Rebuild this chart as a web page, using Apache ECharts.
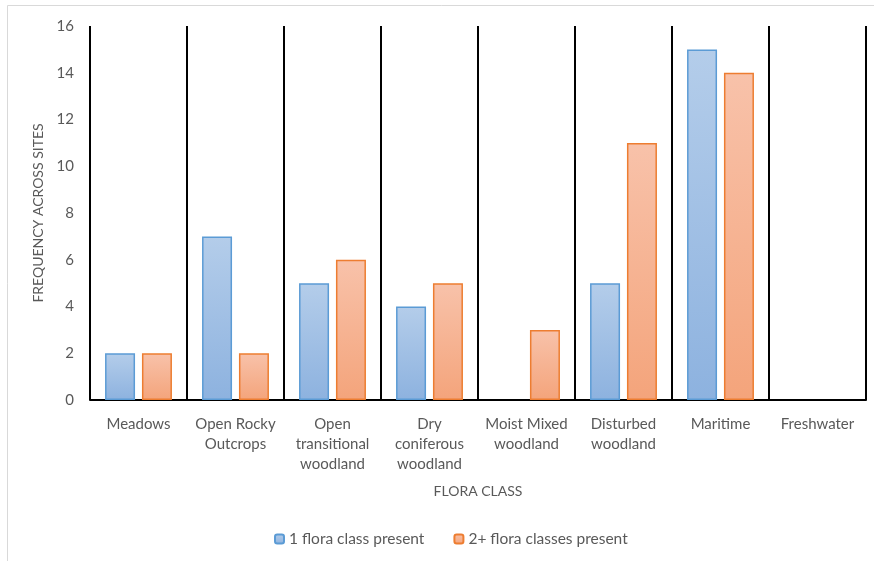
<!DOCTYPE html>
<html>
<head>
<meta charset="utf-8">
<script src="https://cdn.jsdelivr.net/npm/echarts@6/dist/echarts.min.js"></script>
<style>
  html, body { margin: 0; padding: 0; background: #fff; }
  #chart { width: 874px; height: 561px; }
</style>
</head>
<body>
<div id="chart"></div>
<script>
// Flora classes along the x axis
const categories = [
  'Meadows',
  'Open Rocky\nOutcrops',
  'Open\ntransitional\nwoodland',
  'Dry\nconiferous\nwoodland',
  'Moist Mixed\nwoodland',
  'Disturbed\nwoodland',
  'Maritime',
  'Freshwater'
];
// Site counts per flora class
const oneClass = [2, 7, 5, 4, null, 5, 15, null];
const twoPlusClasses = [2, 2, 6, 5, 3, 11, 14, null];
const seriesNames = ['1 flora class present', '2+ flora classes present'];

const FONT = 'Lato, "Open Sans", sans-serif';
const TEXT = '#595959';

const chart = echarts.init(document.getElementById('chart'), null, { renderer: 'canvas' });

function grad(top, bottom) {
  return new echarts.graphic.LinearGradient(0, 0, 0, 1, [
    { offset: 0, color: top },
    { offset: 1, color: bottom }
  ]);
}

chart.setOption({
  animation: false,
  backgroundColor: '#fff',
  textStyle: { fontFamily: FONT },
  graphic: [{
    // chart frame; only its top and left edges fall inside the canvas
    type: 'rect',
    shape: { x: 7.5, y: 5.5, width: 900, height: 600 },
    style: { fill: 'none', stroke: '#d9d9d9', lineWidth: 1 },
    silent: true
  }],
  grid: { left: 90, right: 8, top: 26, bottom: 161 },
  legend: {
    bottom: 14,
    left: 274,
    padding: 0,
    itemWidth: 9,
    itemHeight: 9,
    itemGap: 29,
    textStyle: { color: TEXT, fontSize: 15.5, fontFamily: FONT },
    data: seriesNames
  },
  xAxis: {
    type: 'category',
    data: categories,
    name: 'FLORA CLASS',
    nameLocation: 'middle',
    nameGap: 84,
    nameTextStyle: { color: TEXT, fontSize: 14, fontFamily: FONT },
    axisLine: { show: true, lineStyle: { color: '#000', width: 2 } },
    axisTick: { show: false },
    axisLabel: { color: TEXT, fontSize: 15, lineHeight: 20, margin: 14, interval: 0, fontFamily: FONT },
    splitLine: { show: true, interval: 0, lineStyle: { color: '#000', width: 2 } }
  },
  yAxis: {
    type: 'value',
    min: 0,
    max: 16,
    interval: 2,
    name: 'FREQUENCY ACROSS SITES',
    nameLocation: 'middle',
    nameGap: 42,
    nameRotate: 90,
    nameTextStyle: { color: TEXT, fontSize: 14, fontFamily: FONT },
    axisLine: { show: false },
    axisTick: { show: false },
    axisLabel: { color: TEXT, fontSize: 15, margin: 16, fontFamily: FONT },
    splitLine: { show: false }
  },
  series: [
    {
      name: seriesNames[0],
      type: 'bar',
      data: oneClass,
      barWidth: 30,
      barGap: '23%',
      itemStyle: { color: grad('#b4cdea', '#8db2df'), borderColor: '#5b9bd5', borderWidth: 1.5 }
    },
    {
      name: seriesNames[1],
      type: 'bar',
      data: twoPlusClasses,
      barWidth: 30,
      itemStyle: { color: grad('#f8c2aa', '#f4a47b'), borderColor: '#ed7d31', borderWidth: 1.5 }
    }
  ]
});
</script>
</body>
</html>
